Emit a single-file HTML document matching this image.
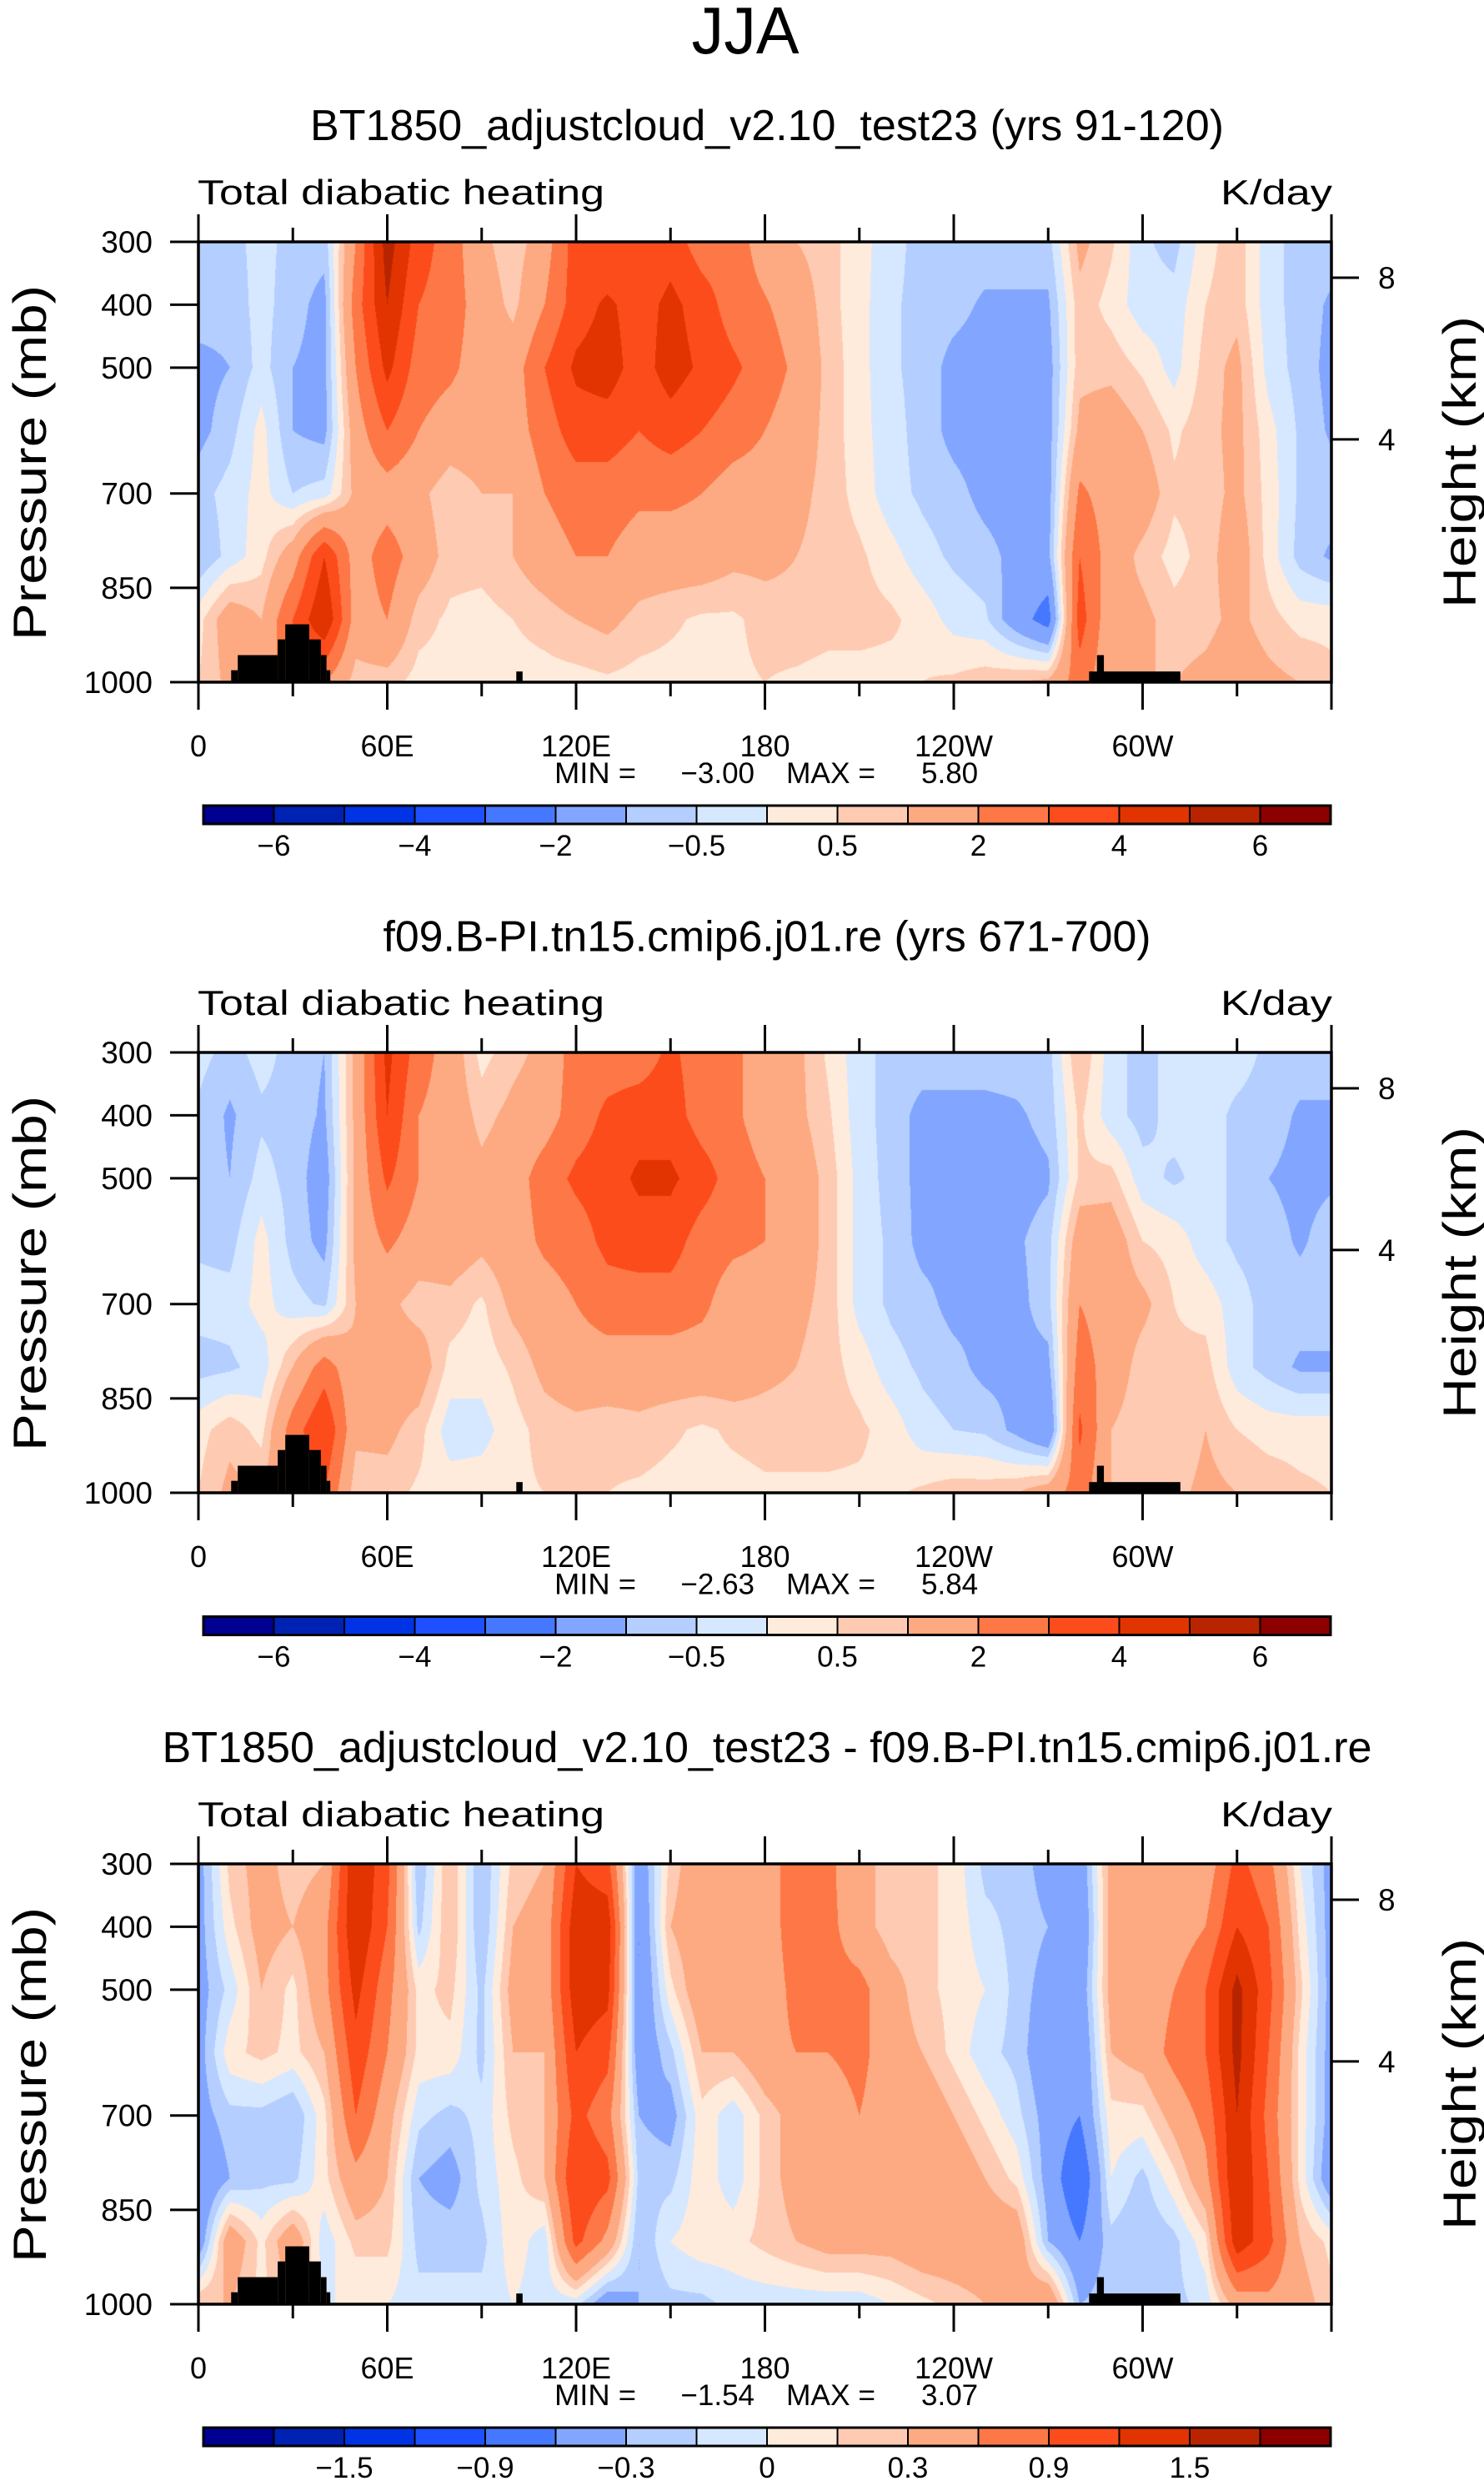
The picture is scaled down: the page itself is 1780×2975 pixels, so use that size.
<!DOCTYPE html>
<html><head><meta charset="utf-8">
<style>
html,body{margin:0;padding:0;background:#fff;}
#root{position:relative;width:1780px;height:2975px;overflow:hidden;background:#fff;}
canvas{position:absolute;}
svg{position:absolute;left:0;top:0;}
text{font-family:"Liberation Sans",sans-serif;fill:#000;}
</style></head>
<body>
<div id="root">
<canvas id="c0" width="1359" height="528" style="left:238px;top:290px"></canvas>
<canvas id="c1" width="1359" height="528" style="left:238px;top:1262px"></canvas>
<canvas id="c2" width="1359" height="528" style="left:238px;top:2235px"></canvas>
<svg id="ov" width="1780" height="2975">
<text x="894" y="64" font-size="80" text-anchor="middle" textLength="129" lengthAdjust="spacingAndGlyphs" style="font-weight:300">JJA</text>
</svg>
</div>
<script>
// ---- data ----
const lons = [0,10,20,30,40,50,60,70,80,90,100,110,120,130,140,150,160,170,180,190,200,210,220,230,240,250,260,270,280,290,300,310,320,330,340,350,360];
const plevs = [300,400,500,600,700,800,900,1000];
const panel1 = [
[-0.7,-0.7,-1.2,-1.2,-0.7,-1,0.3,0.5],[-0.7,-0.8,-1.0,-0.7,-0.3,-0.3,1.5,1.2],[-0.3,-0.3,-0.3,0.2,0.2,0.3,1,1],
[-0.7,-0.8,-1.0,-1.0,-0.5,1.5,3,3],[-0.8,-1.2,-1.2,-1.2,-0.3,4,5,2],[2,2.5,2,1.5,1.2,1.5,1.5,0.7],
[5.5,5,4.3,3,1.5,2.5,2,0.7],[3.5,3,2.5,2,1.2,1.5,0.7,0.3],[2.5,2.5,2.2,1.5,0.6,0.7,0.4,0.3],
[1.2,1.5,1.5,1.5,1,0.7,0.3,0.2],[0.6,0.8,1.5,1.5,1,1,0.5,0.3],[1.5,2,3,2.5,2,1.5,0.7,0.3],
[3.5,3.5,4.2,3.5,2.5,2,1,0.3],[3,4.2,4.5,3.5,2.5,2,1.2,0.4],[3,3.5,3.5,3,2.2,1.5,0.8,0.3],
[3.5,4.3,4.5,3.5,2.2,1.5,0.6,0.3],[2.5,3.5,3.8,3,2,1.5,0.4,0.3],[2.5,2.5,3.2,2.5,1.5,1.2,0.4,0.4],
[1.5,2.1,2.5,2,1.5,1.2,0.7,0.5],[1,1.5,1.8,1.5,1.2,1,0.8,0.4],[0.7,0.7,0.8,0.8,0.8,0.8,0.7,0.3],
[0.2,0.2,0.2,0.2,0.3,0.6,0.7,0.3],[-0.3,-0.4,-0.4,-0.3,-0.3,0.2,0.6,0.3],[-0.7,-0.7,-0.7,-0.7,-0.6,-0.3,0.3,0.5],
[-0.7,-0.8,-1.2,-1.2,-0.8,-0.6,-0.2,0.6],[-0.7,-1.1,-1.3,-1.3,-1.2,-0.8,-0.4,0.8],[-0.7,-1.1,-1.3,-1.3,-1.3,-1.2,-1.5,1.0],
[-0.7,-1.1,-1.3,-1.3,-1.3,-1.2,-2.5,1.2],[1.2,0.8,0.8,1.2,2.2,3,3.5,2.5],[0.6,0.3,0.8,1.5,1.5,1.5,1.2,1.2],
[-0.4,-0.3,0.4,1.0,1.5,0.8,1.2,1],[-0.7,-0.3,-0.2,0.4,0.6,0.3,0.7,1],[0.3,0.5,0.7,0.8,0.7,0.7,0.8,1.2],
[0.8,0.8,1.2,1.2,1.2,1.5,1.2,1.5],[-0.3,-0.3,-0.2,0.2,0.3,0.3,0.7,1.2],[-0.7,-0.7,-0.7,-0.6,-0.6,-0.7,0.3,1],
[-0.7,-1.1,-1.2,-1.1,-0.7,-1.1,0.3,0.7]];
const panel2 = [
[-0.3,-0.6,-0.7,-0.6,-0.3,-0.7,0.3,0.5],[-0.7,-1.1,-1.0,-0.7,-0.3,-0.6,0.8,1.2],[-0.3,-0.6,-0.3,0.2,0.2,-0.3,0.3,1],
[-0.7,-0.7,-0.7,-0.7,-0.3,1,2.5,2],[-1.0,-1.1,-1.4,-1.2,-0.6,2.5,4,3],[1.2,1.2,1.2,1.2,1.0,1.2,1.2,0.6],
[4.3,4,3.2,2.2,1.2,1.5,1.2,0.7],[2.5,2,2,1.5,0.7,1.5,0.7,0.4],[1.5,1.5,1.5,1.5,0.8,0.3,-0.3,0.3],
[0.3,0.8,1.2,1.2,0.4,0.2,-0.2,0.3],[0.8,1.2,1.5,1.5,1.2,0.6,0.3,0.4],[1.2,1.5,2.5,2.2,1.5,1.2,0.7,0.5],
[2.5,2.5,3.2,2.5,2,1.5,0.8,0.5],[2.5,3.2,3.5,3.3,2.5,1.5,0.7,0.5],[2.5,3.5,4.2,3.5,2.5,1.5,0.8,0.4],
[3.2,3.5,4.2,3.5,2.5,1.5,0.6,0.3],[2.5,2.5,3.5,2.5,2.2,1.5,0.4,0.3],[2.2,2.2,2.5,2.2,1.5,1.5,0.6,0.3],
[1.5,1.5,2,2,1.5,1.2,0.7,0.4],[1.2,1.2,1.5,1.5,1.2,1,0.7,0.4],[0.4,0.6,0.8,0.8,0.8,0.7,0.7,0.4],
[-0.3,-0.3,-0.2,-0.2,-0.2,0.3,0.6,0.4],[-0.7,-0.7,-0.7,-0.6,-0.6,-0.3,0.3,0.4],[-0.7,-1.2,-1.2,-1.2,-0.8,-0.6,-0.3,0.6],
[-0.7,-1.2,-1.3,-1.2,-1.2,-0.8,-0.5,0.8],[-0.7,-1.2,-1.3,-1.2,-1.2,-1.2,-0.6,0.8],[-0.7,-1.1,-1.3,-1.1,-1.2,-1.2,-1.2,1],
[-0.7,-0.8,-1.1,-0.7,-0.7,-1.2,-2,1.5],[1.0,0.6,0.6,1.5,2,2.5,3.2,2.5],[-0.3,-0.3,0.7,1.5,1.5,1.5,1,1],
[-0.7,-0.7,-0.3,0.5,1.2,0.7,0.6,0.8],[-0.3,-0.3,-0.6,0.3,0.5,0.6,0.5,0.8],[-0.3,-0.3,-0.3,-0.3,0.3,0.7,1,1.2],
[-0.3,-0.6,-0.6,-0.6,-0.3,-0.3,0.5,1],[-0.6,-0.7,-1.0,-0.7,-0.7,-0.7,0.3,0.8],[-0.7,-1.1,-1.2,-1.1,-0.7,-1.1,0.3,0.6],
[-0.7,-1.1,-1.1,-0.7,-0.7,-1.1,0.3,0.5]];
const panel3 = [
[-0.4,-0.4,-0.4,-0.4,-0.4,-0.6,-0.5,0.3],[0.2,0.1,-0.1,0.1,-0.2,-0.3,0.5,0.3],[0.4,0.4,0.3,0.2,-0.2,-0.2,0.1,0.1],
[0.2,0.3,0.1,0.1,-0.3,-0.2,0.5,0.3],[0.3,0.5,0.5,0.3,0.1,0.1,-0.1,0],[1.5,1.5,1.3,1.1,0.9,0.5,0.2,0],
[1.0,0.9,0.7,0.6,0.4,0.3,0.2,0],[-0.3,-0.2,0.1,0.1,-0.1,-0.3,-0.2,-0.1],[0.3,0.3,0.2,0.1,-0.2,-0.4,-0.2,-0.1],
[-0.3,-0.3,-0.2,-0.2,-0.1,-0.1,-0.2,-0.1],[0.2,0.3,0.4,0.3,0.2,0.1,0.1,0],[0.3,0.4,0.4,0.3,0.3,0.3,-0.1,-0.1],
[1.2,1.4,1.4,1.2,1.0,1.2,1.0,-0.1],[1.0,1.4,1.3,1.0,0.7,1.0,0.5,-0.5],[-0.5,-0.6,-0.6,-0.5,-0.3,-0.2,-0.3,-0.3],
[0.2,0.3,0.1,-0.2,-0.4,-0.2,0,-0.2],[0.5,0.5,0.5,0.3,0.1,0.1,0.1,-0.2],[0.4,0.4,0.4,0.3,-0.1,-0.1,0.1,-0.1],
[0.4,0.4,0.4,0.5,0.2,0.2,0.2,-0.1],[0.8,0.8,0.7,0.6,0.4,0.4,0.3,-0.1],[0.7,0.7,0.7,0.6,0.4,0.4,0.4,-0.1],
[0.3,0.4,0.7,0.7,0.6,0.5,0.4,-0.1],[0.3,0.2,0.4,0.4,0.4,0.5,0.4,0],[0.2,0.2,0.2,0.3,0.5,0.5,0.5,0.1],
[0.1,0.1,0.1,0.1,0.3,0.5,0.5,0.2],[-0.2,-0.1,0,-0.1,0.1,0.3,0.5,0.3],[-0.2,-0.2,-0.2,-0.2,-0.1,0.1,0.5,0.4],
[-0.4,-0.3,-0.4,-0.5,-0.4,-0.4,-0.3,0.6],[-0.5,-0.6,-0.5,-0.6,-0.6,-0.9,-0.6,-0.3],[0.4,0.4,0.4,0.3,0.1,0,-0.2,-0.2],
[0.4,0.3,0.4,0.4,0.1,-0.2,-0.3,-0.2],[0.3,0.4,0.6,0.7,0.4,0.1,-0.2,-0.2],[0.4,0.6,0.9,0.9,0.7,0.5,0.1,-0.1],
[1.0,1.2,1.6,1.6,1.5,1.5,1.4,0.4],[0.7,0.9,1.0,0.9,0.8,0.9,1.0,0.5],[0,0.1,0.2,0.1,0.1,0.1,0.3,0.4],
[-0.4,-0.4,-0.4,-0.4,-0.4,-0.5,0.1,0.2]];
const levels12 = [-6,-5,-4,-3,-2,-1,-0.5,0,0.5,1,2,3,4,5,6];
const levels3 = [-1.8,-1.5,-1.2,-0.9,-0.6,-0.3,-0.15,0,0.15,0.3,0.6,0.9,1.2,1.5,1.8];
const cbLabels12 = [-6,-4,-2,-0.5,0.5,2,4,6];
const cbLabels3 = [-1.5,-0.9,-0.3,0,0.3,0.9,1.5];
const titles = ["BT1850_adjustcloud_v2.10_test23 (yrs 91-120)","f09.B-PI.tn15.cmip6.j01.re (yrs 671-700)","BT1850_adjustcloud_v2.10_test23 - f09.B-PI.tn15.cmip6.j01.re"];
const titleWidths = [1096,921,1451];
const minVals = ["-3.00","-2.63","-1.54"];
const maxVals = ["5.80","5.84","3.07"];
const landLon0 = [10.4,12.5,25.2,27.6,35.2,38.9,40.7,101,283,285.5];
const landLon1 = [12.5,25.2,27.6,35.2,38.9,40.7,41.9,103,312,287.7];
const landP = [981,957,932,908,932,957,981,983,983,957];
const xTicks = [0,60,120,180,240,300,360];
const xTickLabels = ["0","60E","120E","180","120W","60W",""];
const yTicks = [300,400,500,700,850,1000];
const hTicks = [8,4];
const hTickP = [357,614];
const palette = ["#000091","#0022b3","#0033e3","#1e50ff","#4678ff","#82a6ff","#b4ceff","#d6e8ff","#ffebdb","#fecab2","#fdaa82","#fd7846","#fd4c1c","#e13400","#b92400","#8c0000"];

// ---- geometry ----
const PX0 = 238, PW = 1359, PH = 528;
const panelTop = [290,1262,2235];
function xOf(lon){ return PX0 + lon*PW/360; }
function yOf(p, k){ return panelTop[k] + (p-300)*PH/700; }
function colorIdx(v, lv){ let i=0; while(i<lv.length && v>=lv[i]) i++; return i; }
function hex(c){ return [parseInt(c.slice(1,3),16),parseInt(c.slice(3,5),16),parseInt(c.slice(5,7),16)]; }
const rgb = palette.map(hex);

function renderField(k, data, lv){
  const cv = document.getElementById('c'+k), ctx = cv.getContext('2d');
  const img = ctx.createImageData(PW, PH), d = img.data;
  for(let py=0; py<PH; py++){
    const p = 300 + (py+0.5)*700/PH;
    let j = Math.min(plevs.length-2, Math.max(0, Math.floor((p-300)/100)));
    const t = (p-plevs[j])/(plevs[j+1]-plevs[j]);
    for(let px=0; px<PW; px++){
      const lon = (px+0.5)*360/PW;
      let i = Math.min(lons.length-2, Math.floor(lon/10));
      const s = (lon-lons[i])/(lons[i+1]-lons[i]);
      const v = (1-s)*((1-t)*data[i][j]+t*data[i][j+1]) + s*((1-t)*data[i+1][j]+t*data[i+1][j+1]);
      const c = rgb[colorIdx(v, lv)], o = (py*PW+px)*4;
      d[o]=c[0]; d[o+1]=c[1]; d[o+2]=c[2]; d[o+3]=255;
    }
  }
  ctx.putImageData(img,0,0);
}
renderField(0, panel1, levels12);
renderField(1, panel2, levels12);
renderField(2, panel3, levels3);

// ---- overlay ----
const NS = "http://www.w3.org/2000/svg";
const ov = document.getElementById('ov');
function mk(tag, attrs, parent){
  const e = document.createElementNS(NS, tag);
  for(const a in attrs) e.setAttribute(a, attrs[a]);
  (parent||ov).appendChild(e); return e;
}
function txt(s, attrs, parent){ const e = mk('text', attrs, parent); e.textContent = s; return e; }

for(let k=0;k<3;k++){
  const top = panelTop[k], bot = top+PH, dy = k*972.5;
  const g = mk('g', {});
  
  
  for(let m=0;m<landP.length;m++){
    const r = mk('rect', {x:xOf(landLon0[m]), y:yOf(landP[m],k), width:xOf(landLon1[m])-xOf(landLon0[m]), height:bot-yOf(landP[m],k), fill:'#000'}, g);
    
    
  }
  const fr = mk('rect', {x:PX0, y:top, width:PW, height:PH, fill:'none', stroke:'#000', 'stroke-width':3.5}, g);
  
  
  for(let lon=0; lon<=360; lon+=30){
    const major = lon%60===0, L = major?33:17, x = xOf(lon);
    const t1 = mk('line', {x1:x, y1:top, x2:x, y2:top-L, stroke:'#000', 'stroke-width':3}, g);
    
    
    const t2 = mk('line', {x1:x, y1:bot, x2:x, y2:bot+L, stroke:'#000', 'stroke-width':3}, g);
    
    
  }
  for(let m=0;m<xTicks.length;m++){
    if(!xTickLabels[m]) continue;
    const t = txt(xTickLabels[m], {x:xOf(xTicks[m]), y:bot+89, 'font-size':36, 'text-anchor':'middle'}, g);
    
    
  }
  for(const p of yTicks){
    const y = yOf(p,k);
    const l = mk('line', {x1:PX0, y1:y, x2:PX0-34, y2:y, stroke:'#000', 'stroke-width':3}, g);
    
    
    const t = txt(String(p), {x:183, y:y+13, 'font-size':37, 'text-anchor':'end'}, g);
    
    
  }
  for(let m=0;m<hTicks.length;m++){
    const y = yOf(hTickP[m],k);
    const l = mk('line', {x1:PX0+PW, y1:y, x2:PX0+PW+33, y2:y, stroke:'#000', 'stroke-width':3}, g);
    
    
    const t = txt(String(hTicks[m]), {x:1653, y:y+13, 'font-size':37}, g);
    
    
  }
  const ti = txt(titles[k], {x:920, y:168+dy, 'font-size':52, 'text-anchor':'middle', textLength:titleWidths[k], lengthAdjust:'spacingAndGlyphs'}, g);
  
  
  const lt = txt('Total diabatic heating', {x:237, y:top-45, 'font-size':42, textLength:488, lengthAdjust:'spacingAndGlyphs'}, g);
  
  
  const rt = txt('K/day', {x:1598, y:top-45, 'font-size':42, 'text-anchor':'end', textLength:134, lengthAdjust:'spacingAndGlyphs'}, g);
  
  
  const ya = txt('Pressure  (mb)', {x:0, y:0, 'font-size':56, 'text-anchor':'middle', textLength:426, lengthAdjust:'spacingAndGlyphs', transform:'translate(55,'+(top+265)+') rotate(-90)'}, g);
  
  
  const ha = txt('Height  (km)', {x:0, y:0, 'font-size':56, 'text-anchor':'middle', textLength:350, lengthAdjust:'spacingAndGlyphs', transform:'translate(1770,'+(top+264)+') rotate(-90)'}, g);
  
  
  const mn = txt('MIN =', {x:665, y:939+dy, 'font-size':35, textLength:98, lengthAdjust:'spacingAndGlyphs'}, g);
  
  
  const mv = txt('\u2212'+minVals[k].slice(1), {x:905, y:939+dy, 'font-size':35, 'text-anchor':'end'}, g);
  
  
  const mx = txt('MAX =', {x:943, y:939+dy, 'font-size':35, textLength:107, lengthAdjust:'spacingAndGlyphs'}, g);
  
  
  const xv = txt(maxVals[k], {x:1105, y:939+dy, 'font-size':35}, g);
  
  
  const cx0 = 244, cx1 = 1596, cy = 966+dy, ch = 22, bw = (cx1-cx0)/16;
  for(let b=0;b<16;b++){
    const r = mk('rect', {x:cx0+b*bw, y:cy, width:bw, height:ch, fill:palette[b], stroke:'#000', 'stroke-width':2}, g);
    
    
  }
  const cbo = mk('rect', {x:cx0, y:cy, width:cx1-cx0, height:ch, fill:'none', stroke:'#000', 'stroke-width':3}, g);
  
  
  const lv = k<2?levels12:levels3, labs = k<2?cbLabels12:cbLabels3;
  for(const v of labs){
    const bi = lv.indexOf(v)+1;
    const s = (v<0?'\u2212':'')+String(Math.abs(v));
    const t = txt(s, {x:cx0+bi*bw, y:cy+60, 'font-size':35, 'text-anchor':'middle'}, g);
    
    
  }
}
</script>
</body></html>
